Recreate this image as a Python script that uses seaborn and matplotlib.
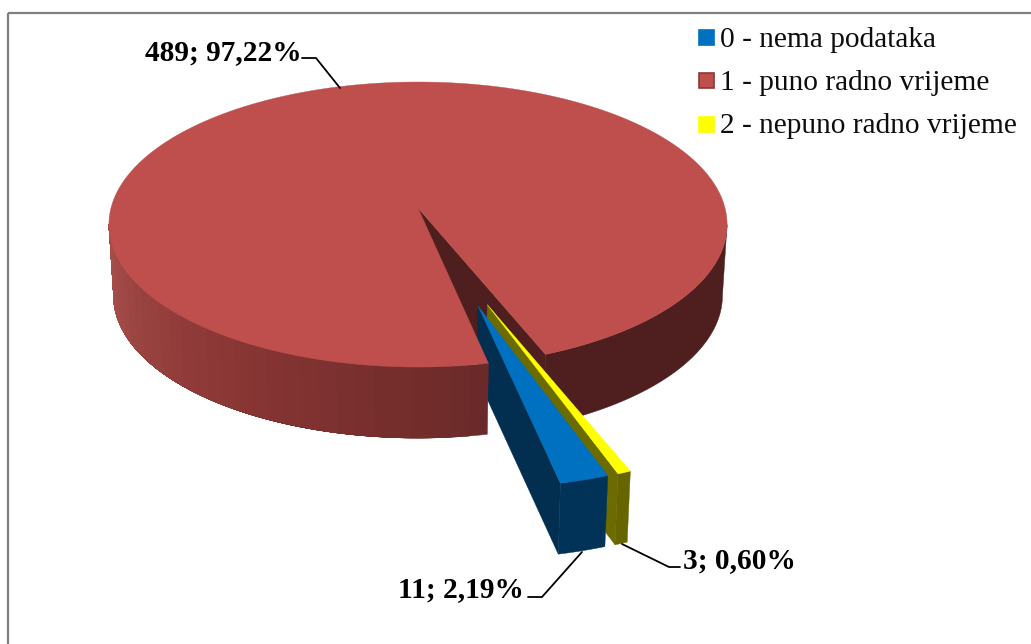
"""Exploded 3D pie: radno vrijeme (puno / nepuno / nema podataka)."""
import numpy as np
import matplotlib
matplotlib.use('Agg')
import matplotlib.pyplot as plt
from matplotlib.patches import Rectangle
import seaborn as sns

CATEGORIES = ['0 - nema podataka', '1 - puno radno vrijeme', '2 - nepuno radno vrijeme']
COUNTS = [11, 489, 3]
LABELS = ['11; 2,19%', '489; 97,22%', '3; 0,60%']

TOP_COLORS = ['#0070C0', '#BE4F4D', '#FFFF00']

# perspective of the pie plane, in pixels
APEX_X, APEX_Y = 418, 208
F, G, K = 307, 140.6, 0.116
DEPTH = 71
FIRST_ANGLE = 19.6   # angle of first slice edge, measured from straight down
EXPLODE = 0.67
SMALL_RADIUS = 0.97
SIDE_ANGLE = 83.3    # where the rim turns away from the viewer

sns.set_theme(style='white')
plt.rcParams['font.family'] = ['Liberation Serif', 'DejaVu Serif']


def project(x, y, low=False):
    w = 1 / (1 - K * y)
    shrink = 0.985 if low else 1.0
    return APEX_X + F * x * w * shrink, APEX_Y + G * y * w + (DEPTH if low else 0)


def rim(a0, a1, ox=0, oy=0, r=1.0, low=False, n=200):
    a = np.radians(np.linspace(a0, a1, n))
    return project(ox + r * np.sin(a), oy + r * np.cos(a), low)


def wall(ax, a0, a1, color, ox=0, oy=0, r=1.0, zorder=1):
    xt, yt = rim(a0, a1, ox, oy, r)
    xb, yb = rim(a0, a1, ox, oy, r, low=True)
    ax.fill(np.r_[xt, xb[::-1]], np.r_[yt, yb[::-1]], color=color, lw=0.3, zorder=zorder)


def radial(ax, a, color, ox=0, oy=0, r=1.0, zorder=1):
    rad = np.radians(a)
    ex, ey = ox + r * np.sin(rad), oy + r * np.cos(rad)
    xt, yt = project(np.array([ox, ex]), np.array([oy, ey]))
    xb, yb = project(np.array([ox, ex]), np.array([oy, ey]), low=True)
    ax.fill([xt[0], xt[1], xb[1], xb[0]], [yt[0], yt[1], yb[1], yb[0]],
            color=color, lw=0.3, zorder=zorder)


def top(ax, a0, a1, color, ox=0, oy=0, r=1.0, zorder=1):
    x, y = rim(a0, a1, ox, oy, r, n=500)
    ax0, ay0 = project(ox, oy)
    ax.fill(np.r_[ax0, x], np.r_[ay0, y], color=color, lw=0.3, zorder=zorder)


def exploded(a0, a1, nudge=0):
    mid = np.radians((a0 + a1) / 2 + nudge)
    return EXPLODE * np.sin(mid), EXPLODE * np.cos(mid)


fig = plt.figure(figsize=(10.31, 6.44), dpi=100)
ax = fig.add_axes([0, 0, 1, 1])
ax.set_xlim(0, 1031)
ax.set_ylim(644, 0)
ax.set_axis_off()

# chart frame runs off the right and bottom of the picture
ax.add_patch(Rectangle((8, 13), 1040, 660, fill=False, ec='#808080', lw=1.6, zorder=0))

spans = np.array(COUNTS) / sum(COUNTS) * 360
blue_a = (FIRST_ANGLE, FIRST_ANGLE - spans[0])
red_a = (blue_a[1], blue_a[1] - spans[1])
yellow_a = (red_a[1] + 360, red_a[1] + 360 - spans[2])

# dark walls of the red slice, behind the small slices
wall(ax, yellow_a[0], SIDE_ANGLE, '#4E1F1E', zorder=1)
radial(ax, yellow_a[0], '#4E1F1E', zorder=2)

# yellow slice
ox, oy = exploded(*yellow_a, nudge=-2.5)
radial(ax, yellow_a[1], '#6B6B00', ox, oy, SMALL_RADIUS, zorder=5)
wall(ax, yellow_a[0], yellow_a[1], '#666600', ox, oy, SMALL_RADIUS, zorder=5)
top(ax, yellow_a[0], yellow_a[1], TOP_COLORS[2], ox, oy, SMALL_RADIUS, zorder=6)

# blue slice
ox, oy = exploded(*blue_a)
radial(ax, blue_a[1], '#022E50', ox, oy, SMALL_RADIUS, zorder=7)
wall(ax, blue_a[0], blue_a[1], '#013359', ox, oy, SMALL_RADIUS, zorder=7)
top(ax, blue_a[0], blue_a[1], TOP_COLORS[0], ox, oy, SMALL_RADIUS, zorder=8)

# shaded front wall and top of the red slice cover the blue wall's corner
shades = sns.blend_palette(['#6B2A29', '#8B3735', '#A8504D'], 30)
edges = np.linspace(red_a[0], -SIDE_ANGLE, 31)
for c, e in zip(shades, edges):
    # every strip runs to the far end so that no seams show between them
    wall(ax, e, -SIDE_ANGLE, c, zorder=9)
top(ax, *red_a, TOP_COLORS[1], zorder=9.5)

# data labels with leader lines
label_pos = [(398, 597), (145, 60), (683, 568)]
leaders = [([528, 542, 582], [597, 597, 552]),
           ([302, 316, 340], [58, 58, 88]),
           ([680, 669, 622], [567, 567, 544])]
for lab, (tx, ty), (lx, ly) in zip(LABELS, label_pos, leaders):
    ax.text(tx, ty, lab, fontsize=21.2, fontweight='bold', color='black',
            ha='left', va='baseline', zorder=11)
    ax.plot(lx, ly, color='black', lw=1.3, zorder=10)

# legend
for cat, col, sy, base in zip(CATEGORIES, TOP_COLORS, [30, 73, 117], [47, 90, 133]):
    edge = '#8C3836' if col == TOP_COLORS[1] else col
    ax.add_patch(Rectangle((699, sy), 15, 15, fc=col, ec=edge, lw=1.2, zorder=11))
    ax.text(720, base, cat, fontsize=21.2, color='#0D0D0D', ha='left', va='baseline', zorder=11)

fig.savefig('out.png', dpi=100)
plt.close(fig)
